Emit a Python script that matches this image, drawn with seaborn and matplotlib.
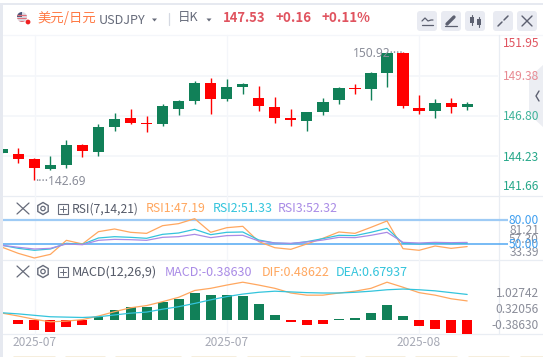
import matplotlib
matplotlib.use("Agg")
import matplotlib.pyplot as plt
from matplotlib.patches import Circle, FancyBboxPatch, Polygon, Rectangle, RegularPolygon
import numpy as np
import seaborn as sns

W, H = 543, 357

# K线 (open, close, high, low)
opens = [144.43, 144.37, 144.05, 143.40, 143.66, 144.95, 144.50, 146.10, 146.68, 146.36,
         146.30, 147.26, 147.77, 148.93, 147.90, 148.67, 147.97, 147.39, 146.68, 146.49,
         147.07, 147.84, 148.61, 148.54, 149.57, 150.86, 147.32, 147.13, 147.65, 147.39]
closes = [144.69, 144.05, 143.49, 143.66, 144.95, 144.56, 146.10, 146.62, 146.36, 146.30,
          147.45, 147.77, 148.93, 147.90, 148.67, 148.87, 147.45, 146.68, 146.57, 147.07,
          147.71, 148.61, 148.52, 149.57, 150.86, 147.45, 147.13, 147.65, 147.39, 147.58]
highs = [144.69, 144.75, 144.11, 144.24, 145.27, 145.01, 146.30, 147.00, 147.26, 146.81,
         147.58, 147.84, 149.06, 149.25, 149.19, 148.93, 148.74, 148.03, 147.26, 147.07,
         147.97, 148.67, 148.87, 149.64, 150.92, 150.92, 148.16, 147.90, 147.97, 147.71]
lows = [144.43, 143.79, 142.69, 143.34, 143.47, 144.17, 144.24, 145.85, 146.30, 145.78,
        146.17, 146.87, 147.58, 146.94, 147.77, 148.22, 147.13, 146.36, 146.17, 145.85,
        146.87, 147.58, 148.22, 147.84, 148.67, 147.32, 146.94, 146.68, 147.00, 147.20]

rsi1 = [46.3, 38.8, 33.1, 37.6, 54.9, 50.4, 65.6, 68.9, 64.8, 63.5,
        73.0, 75.5, 81.65, 64.8, 70.5, 72.2, 53.3, 45.8, 43.8, 50.4,
        57.4, 65.2, 63.5, 70.95, 78.8, 44.6, 42.6, 47.9, 45.0, 47.19]
rsi2 = [48.7, 45.0, 42.6, 44.2, 51.2, 50.0, 57.8, 59.4, 58.6, 57.4,
        62.3, 63.95, 68.5, 61.9, 64.8, 65.2, 55.3, 51.6, 50.8, 53.3,
        57.0, 61.1, 60.7, 64.8, 69.7, 51.2, 50.4, 51.6, 50.8, 51.33]
rsi3 = [48.7, 46.3, 44.2, 45.0, 50.4, 49.5, 54.9, 56.1, 55.7, 54.9,
        58.6, 59.4, 62.3, 58.2, 60.7, 61.1, 54.1, 51.6, 51.2, 52.8,
        55.3, 58.6, 58.2, 61.1, 64.8, 52.4, 51.6, 52.4, 52.0, 52.32]

hist = [0.01, -0.11, -0.27, -0.33, -0.19, -0.14, 0.08, 0.28, 0.36, 0.37,
        0.51, 0.58, 0.75, 0.69, 0.69, 0.68, 0.44, 0.14, -0.05, -0.14,
        -0.11, 0.02, 0.055, 0.19, 0.42, 0.11, -0.17, -0.25, -0.36, -0.386]
dif = [0.19, 0.11, 0.02, -0.05, -0.03, 0.01, 0.11, 0.23, 0.34, 0.40,
       0.51, 0.63, 0.82, 0.88, 0.97, 1.05, 0.97, 0.88, 0.75, 0.69,
       0.69, 0.75, 0.80, 0.88, 1.05, 0.91, 0.76, 0.69, 0.59, 0.53]
dea = [0.20, 0.17, 0.13, 0.09, 0.08, 0.07, 0.09, 0.14, 0.19, 0.22,
       0.30, 0.37, 0.46, 0.56, 0.65, 0.72, 0.77, 0.80, 0.78, 0.76,
       0.75, 0.75, 0.77, 0.80, 0.84, 0.86, 0.84, 0.81, 0.76, 0.71]

price_ticks = ["151.95", "149.38", "146.80", "144.23", "141.66"]
date_labels = ["2025-07", "2025-07", "2025-08"]
date_index = [2, 14, 26]

RED = "#ff0000"
GREEN = "#118058"
ORANGE = "#ffa75f"
CYAN = "#33c4dc"
PURPLE = "#a98be6"
GRID = "#f4f6fa"
LINE = "#e9edf3"
GRAY = "#8a8d99"
ICON = "#666b7a"

sns.set_theme(style="white")
plt.rcParams["font.family"] = ["Noto Sans CJK SC", "DejaVu Sans"]

fig = plt.figure(figsize=(W / 100, H / 100), dpi=100)


def panel(x0, y0, x1, y1):
    # pixel box, y from the top
    ax = fig.add_axes([x0 / W, 1 - y1 / H, (x1 - x0) / W, (y1 - y0) / H])
    ax.patch.set_alpha(0)
    ax.set_xticks([])
    ax.set_yticks([])
    sns.despine(ax=ax, left=True, bottom=True)
    return ax


def clean(ax):
    ax.set_xlim(*xlim)
    ax.set_xticks([])
    ax.set_yticks([])
    ax.set_xlabel("")
    ax.set_ylabel("")


def label(x, y, s, color=GRAY, size=8.6, ha="left", **kw):
    return bg.text(x, y, s, color=color, fontsize=size, ha=ha, va="center", **kw)


def indicator_icons(y):
    # close, settings, add
    bg.plot([17, 29], [y - 5.5, y + 5.5], color=ICON, lw=0.9)
    bg.plot([17, 29], [y + 5.5, y - 5.5], color=ICON, lw=0.9)
    bg.add_patch(RegularPolygon((43, y), 6, radius=6, fc="none", ec=ICON, lw=1))
    bg.add_patch(Circle((43, y), 2.2, fc="none", ec=ICON, lw=0.9))
    bg.add_patch(Rectangle((57.5, y - 5), 10, 10, fc="none", ec=ICON, lw=0.8))
    bg.plot([59.5, 65.5], [y, y], color=ICON, lw=0.7)
    bg.plot([62.5, 62.5], [y - 3, y + 3], color=ICON, lw=0.7)


# background layer in pixel coordinates
bg = fig.add_axes([0, 0, 1, 1])
bg.set_xlim(0, W)
bg.set_ylim(H, 0)
bg.axis("off")
bg.add_patch(Rectangle((0, 3), W, 2, color="#e6e9f0", lw=0))
bg.add_patch(Rectangle((0, 3), 2.5, H, color="#e6e9f0", lw=0))
for y in (35, 196, 260, 334):
    bg.plot([3, W], [y, y], color=LINE if y > 35 else GRID, lw=0.9)
bg.plot([498.5, 498.5], [35, 334], color=LINE, lw=0.9)
for x in (34.5, 226.5, 419):
    bg.plot([x, x], [35, 334], color=GRID, lw=0.9)

idx = np.arange(len(opens))
xlim = ((3 - 2.3) / 16.03, (498.5 - 2.3) / 16.03)
o, c, hi, lo = map(np.array, (opens, closes, highs, lows))
up = c >= o

# main panel: 149.38 sits on y=76, 15.56 px per unit
main = panel(3, 36, 498.5, 196)
main.set_xlim(*xlim)
main.set_ylim(149.38 - (196 - 76) / 15.56, 149.38 + (76 - 36) / 15.56)
for p in (149.38, 146.80, 144.23):
    main.axhline(p, color=GRID, lw=1.2, zorder=0)
main.vlines(idx[up], lo[up], hi[up], color=GREEN, lw=1)
main.vlines(idx[~up], lo[~up], hi[~up], color=RED, lw=1)
body_lo = np.minimum(o, c)
body_h = np.maximum(np.abs(c - o), 0.06)
for mask, col in ((up, GREEN), (~up, RED)):
    sns.barplot(x=idx[mask], y=body_h[mask], bottom=body_lo[mask], color=col, ax=main,
                native_scale=True, width=0.7, saturation=1, linewidth=0, zorder=3)
clean(main)
main.text(2.04, 142.60, "····142.69", color=GRAY, fontsize=8.6, va="center", ha="left",
          zorder=5, family="Noto Sans")
main.text(21.88, 150.92 - 0.07, "150.92····", color=GRAY, fontsize=8.6, va="center", ha="left",
          zorder=5, family="Noto Sans")

# RSI: 80 on y=220, 50 on y=244.3
rsi = panel(3, 196, 498.5, 260)
rsi.set_xlim(*xlim)
rsi.set_ylim(50 - (260 - 244.3) / 0.81, 80 + (220 - 196) / 0.81)
line_end = (508 - 2.3) / 16.03
rsi.hlines(80, xlim[0], line_end, color="#9ecbf5", lw=1.6, clip_on=False)
rsi.hlines(50, xlim[0], line_end, color="#52a8f2", lw=1.1, clip_on=False)
for vals, col in ((rsi1, ORANGE), (rsi2, CYAN), (rsi3, PURPLE)):
    sns.lineplot(x=idx, y=vals, color=col, lw=0.9, ax=rsi, errorbar=None)
clean(rsi)

# MACD: histogram and lines share zero at y=320, 36 px per unit
macd = panel(3, 260, 498.5, 334)
macd.set_xlim(*xlim)
macd.set_ylim(-14 / 36, 60 / 36)
h = np.array(hist)
for mask, col in ((h >= 0, GREEN), (h < 0, RED)):
    sns.barplot(x=idx[mask], y=h[mask], color=col, ax=macd, native_scale=True,
                width=0.62, saturation=1, linewidth=0)
sns.lineplot(x=idx, y=dif, color=ORANGE, lw=0.9, ax=macd, errorbar=None)
sns.lineplot(x=idx, y=dea, color=CYAN, lw=0.9, ax=macd, errorbar=None)
clean(macd)

# header
flag = Circle((22, 17), 5, color="#dcdfe8", lw=0)
bg.add_patch(flag)
for y in (15, 18, 21):
    bg.plot([17, 27], [y, y], color="#e0707a", lw=0.9).pop().set_clip_path(flag)
bg.add_patch(Rectangle((17, 12), 5, 4.5, color="#4a5578", lw=0)).set_clip_path(flag)
bg.add_patch(Circle((28, 22), 2.4, color="#f02020", lw=0))
label(37, 18, "美元/日元", color="#ff7a45", size=9.6)
label(99, 20, "USDJPY", color=ICON, size=9.1)
label(178, 18, "日K", color=ICON, size=9)
bg.plot([168.5, 168.5], [13, 25], color="#d5d9e2", lw=0.9)
label(223, 18, "147.53", color="#e0535f", size=9.4, fontweight="bold")
label(276, 18, "+0.16", color="#e0535f", size=9.6, fontweight="bold")
label(321, 18, "+0.11%", color="#e0535f", size=9.6, fontweight="bold")
for x in (154.5, 209):
    bg.fill([x - 2.5, x + 2.5, x], [18.5, 18.5, 21.5], color=ICON, lw=0)

# toolbar buttons
for x in (417, 441, 465, 493, 517):
    bg.add_patch(FancyBboxPatch((x, 11), 20, 20, boxstyle="round,pad=0,rounding_size=3",
                                color="#e9ebf2", lw=0))
bg.plot([422, 425, 428, 431, 433], [21, 18, 21, 20, 20], color="#5c6070", lw=0.9)
bg.plot([422, 433], [25, 25], color="#5c6070", lw=0.9)
bg.plot([447, 454], [24, 17], color="#5c6070", lw=2.4)
bg.plot([445, 457], [26, 26], color="#5c6070", lw=0.9)
bg.plot([471.5, 471.5], [15, 25], color="#5c6070", lw=0.8)
bg.plot([478.5, 478.5], [17, 27], color="#5c6070", lw=0.8)
bg.add_patch(Rectangle((469.5, 17), 4, 6, color="#5c6070", lw=0))
bg.add_patch(Rectangle((476.5, 19), 4, 6, color="#5c6070", lw=0))
bg.plot([498, 502], [26, 22], color="#5c6070", lw=1.1)
bg.plot([504, 508], [20, 16], color="#5c6070", lw=1.1)
bg.plot([522, 532], [16, 26], color="#5c6070", lw=1)
bg.plot([522, 532], [26, 16], color="#5c6070", lw=1)

# price axis labels, outer two are pinned inside the panel
bg.add_patch(Polygon([(543, 65), (529, 78), (529, 114), (543, 127)], color="#eceef3", lw=0))
bg.plot([539, 536, 539], [91, 96, 101], color="#5c6070", lw=1)
price_cols = ["#e0535f", "#e88a92", "#3fb39a", "#27a88a", "#27a88a"]
for y, s, col in zip((43.5, 76.5, 117, 157.5, 187), price_ticks, price_cols):
    label(503, y, s, color=col)

# RSI header and axis
indicator_icons(208.5)
label(71.5, 209, "RSI(7,14,21)", color="#555a68", size=8.7)
label(146, 209, "RSI1:47.19", color=ORANGE, size=8.9)
label(212.5, 209, "RSI2:51.33", color=CYAN, size=8.9)
label(278, 209, "RSI3:52.32", color=PURPLE, size=8.9)
label(539, 231, "81.21", ha="right")
label(539, 239.5, "57.30", ha="right")
label(539, 252.5, "33.39", ha="right")
label(539, 220.5, "80.00", color="#3f9ff0", ha="right")
label(539, 244.5, "50.00", color="#3f9ff0", ha="right")

# MACD header and axis
indicator_icons(271.5)
label(71.5, 272, "MACD(12,26,9)", color="#555a68", size=9.1)
label(165, 272, "MACD:-0.38630", color=PURPLE, size=9)
label(262, 272, "DIF:0.48622", color=ORANGE, size=9)
label(336, 272, "DEA:0.67937", color=CYAN, size=9)
label(539, 293.5, "1.02742", ha="right")
label(539, 309.5, "0.32056", ha="right")
label(539, 325.5, "-0.38630", ha="right")

# dates
for i, s in zip(date_index, date_labels):
    label(2.3 + 16.03 * i, 342.5, s, color="#a6a9b5", ha="center")

# cut off news tags along the bottom edge
for x0, x1 in ((13, 55), (65, 105), (115, 181), (191, 236), (247, 290),
               (300, 355), (365, 405), (415, 456.5), (467.5, 509), (520, 543)):
    bg.plot([x0, x1], [356.5, 356.5], color="#d6aa52", lw=1, solid_capstyle="butt")

fig.savefig("out.png", dpi=100)
